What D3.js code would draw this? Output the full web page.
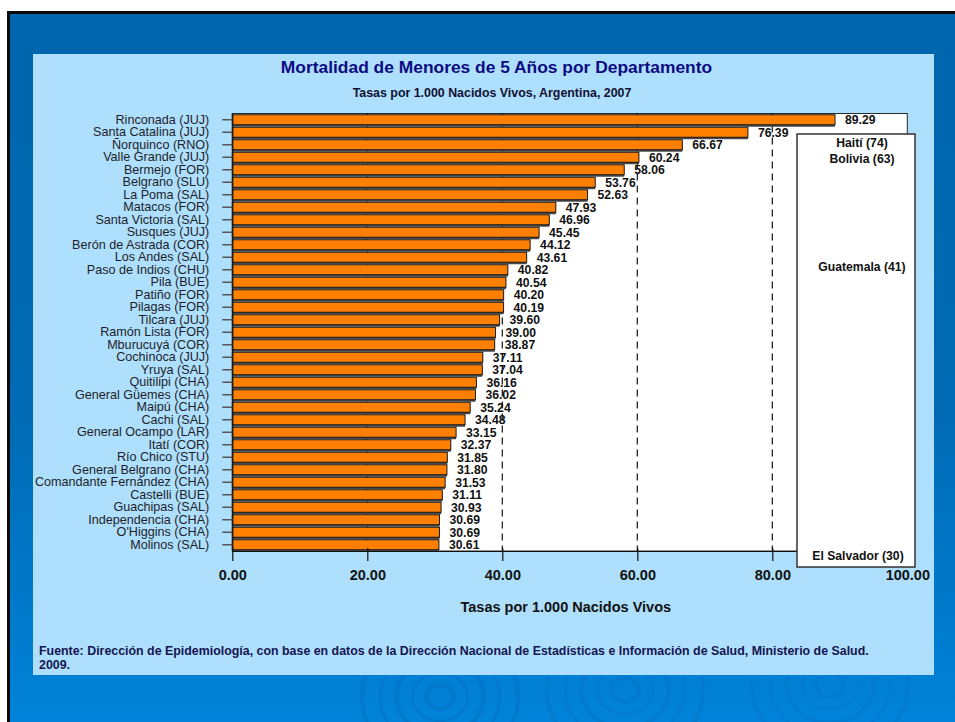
<!DOCTYPE html>
<html>
<head>
<meta charset="utf-8">
<script src="https://cdn.jsdelivr.net/npm/d3@7"></script>
<style>
  html, body { margin: 0; padding: 0; background: #ffffff; }
  svg { display: block; }
  text { font-family: "Liberation Sans", Arial, sans-serif; }
</style>
</head>
<body>
<svg id="chart" width="955" height="722"></svg>
<script>
// ---------------- DATA ----------------
const departamentos = [
  "Rinconada (JUJ)", "Santa Catalina (JUJ)", "Ñorquinco (RNO)", "Valle Grande (JUJ)",
  "Bermejo (FOR)", "Belgrano (SLU)", "La Poma (SAL)", "Matacos (FOR)",
  "Santa Victoria (SAL)", "Susques (JUJ)", "Berón de Astrada (COR)", "Los Andes (SAL)",
  "Paso de Indios (CHU)", "Pila (BUE)", "Patiño (FOR)", "Pilagas (FOR)",
  "Tilcara (JUJ)", "Ramón Lista (FOR)", "Mburucuyá (COR)", "Cochinoca (JUJ)",
  "Yruya (SAL)", "Quitilipi (CHA)", "General Güemes (CHA)", "Maipú (CHA)",
  "Cachi (SAL)", "General Ocampo (LAR)", "Itatí (COR)", "Río Chico (STU)",
  "General Belgrano (CHA)", "Comandante Fernández (CHA)", "Castelli (BUE)", "Guachipas (SAL)",
  "Independencia (CHA)", "O'Higgins (CHA)", "Molinos (SAL)"
];
const tasas = [
  89.29, 76.39, 66.67, 60.24, 58.06, 53.76, 52.63, 47.93,
  46.96, 45.45, 44.12, 43.61, 40.82, 40.54, 40.20, 40.19,
  39.60, 39.00, 38.87, 37.11, 37.04, 36.16, 36.02, 35.24,
  34.48, 33.15, 32.37, 31.85, 31.80, 31.53, 31.11, 30.93,
  30.69, 30.69, 30.61
];
const xTicks = [0, 20, 40, 60, 80, 100];
const gridTicks = [20, 40, 60, 80];
const paisesReferencia = ["Haití (74)", "Bolivia (63)", "Guatemala (41)", "El Salvador (30)"];

const titulo = "Mortalidad de Menores de 5 Años por Departamento";
const subtitulo = "Tasas por 1.000 Nacidos Vivos, Argentina, 2007";
const tituloEjeX = "Tasas por 1.000 Nacidos Vivos";
const fuente = [
  "Fuente: Dirección de Epidemiología, con base en datos de la Dirección Nacional de Estadísticas e Información de Salud, Ministerio de Salud.",
  "2009."
];

// ---------------- LAYOUT ----------------
const svg = d3.select("#chart");
const W = 955, H = 722;
const plot = { left: 232.3, right: 907.3, top: 113.5, bottom: 551 };
const FONT = '"Liberation Sans", Arial, sans-serif';

const data = departamentos.map((d, i) => ({ name: d, value: tasas[i] }));

const x = d3.scaleLinear().domain([0, 100]).range([plot.left, plot.right]);
const y = d3.scaleBand().domain(departamentos).range([plot.top, plot.bottom])
  .paddingInner(0.2).paddingOuter(0.1);

// ---------------- BACKGROUND ----------------
const defs = svg.append("defs");
const grad = defs.append("linearGradient").attr("id", "bgGrad")
  .attr("x1", 0).attr("y1", 0).attr("x2", 0).attr("y2", 1);
grad.append("stop").attr("offset", "0%").attr("stop-color", "#0066ad");
grad.append("stop").attr("offset", "55%").attr("stop-color", "#006ab4");
grad.append("stop").attr("offset", "100%").attr("stop-color", "#0084da");

svg.append("rect").attr("x", 0).attr("y", 0).attr("width", W).attr("height", H).attr("fill", "#ffffff");
svg.append("rect").attr("x", 8.5).attr("y", 12.5).attr("width", W).attr("height", H)
  .attr("fill", "url(#bgGrad)");
// black frame (top and left)
svg.append("line").attr("x1", 7).attr("x2", W).attr("y1", 12.5).attr("y2", 12.5)
  .attr("stroke", "#0a0a0a").attr("stroke-width", 3);
svg.append("line").attr("x1", 8.5).attr("x2", 8.5).attr("y1", 11).attr("y2", H)
  .attr("stroke", "#0a0a0a").attr("stroke-width", 3);

// faint decorative swirls
const swirlCenters = [[440, 697, 1], [625, 690, 0.7], [830, 685, 0.5]];
const swirl = svg.append("g").attr("fill", "none");
swirlCenters.forEach(([cx, cy, op]) => {
  [12, 24, 38, 52, 68].forEach((r, j) => {
    swirl.append("ellipse").attr("cx", cx).attr("cy", cy).attr("rx", r * 1.15).attr("ry", r)
      .attr("stroke", "#0068b6")
      .attr("stroke-width", j % 2 ? 2.5 : 4)
      .attr("opacity", 0.35 * op);
  });
});

// light panel
svg.append("rect").attr("x", 33).attr("y", 54).attr("width", 901).attr("height", 621)
  .attr("fill", "#aedffc");

// ---------------- TITLES ----------------
svg.append("text").attr("x", 496.5).attr("y", 72.5).attr("text-anchor", "middle")
  .attr("font-size", "17.4px").attr("font-weight", "bold").attr("fill", "#0c0c82")
  .text(titulo);
svg.append("text").attr("x", 492).attr("y", 97).attr("text-anchor", "middle")
  .attr("font-size", "12.4px").attr("font-weight", "bold").attr("fill", "#111133")
  .text(subtitulo);

// ---------------- PLOT AREA ----------------
svg.append("rect").attr("x", plot.left).attr("y", plot.top)
  .attr("width", plot.right - plot.left).attr("height", plot.bottom - plot.top)
  .attr("fill", "#ffffff").attr("stroke", "#2a2a2a").attr("stroke-width", 1);

// value labels (drawn under the grid lines, as in the reference)
svg.append("g").selectAll("text").data(data).join("text")
  .attr("x", d => x(d.value) + 10)
  .attr("y", d => y(d.name) + y.bandwidth() / 2 + 4.6)
  .attr("font-size", "12.2px").attr("font-weight", "bold").attr("fill", "#111")
  .text(d => d.value.toFixed(2));

// dashed grid lines
svg.append("g").selectAll("line").data(gridTicks).join("line")
  .attr("x1", d => x(d)).attr("x2", d => x(d))
  .attr("y1", plot.top).attr("y2", plot.bottom)
  .attr("stroke", "#111").attr("stroke-width", 1.2).attr("stroke-dasharray", "7,5");
// small ticks at top of frame
svg.append("g").selectAll("line").data(gridTicks).join("line")
  .attr("x1", d => x(d)).attr("x2", d => x(d))
  .attr("y1", plot.top).attr("y2", plot.top + 4)
  .attr("stroke", "#111").attr("stroke-width", 1.2);

// bar shadows + bars
svg.append("g").selectAll("rect").data(data).join("rect")
  .attr("x", x(0)).attr("y", d => y(d.name) + 2)
  .attr("width", d => x(d.value) - x(0)).attr("height", y.bandwidth())
  .attr("fill", "#4a4a4a");
svg.append("g").selectAll("rect").data(data).join("rect")
  .attr("x", x(0)).attr("y", d => y(d.name))
  .attr("width", d => x(d.value) - x(0)).attr("height", y.bandwidth())
  .attr("fill", "#ff8000").attr("stroke", "#1a1a1a").attr("stroke-width", 1);

// ---------------- AXES ----------------
const xAxis = svg.append("g").attr("transform", `translate(0,${plot.bottom})`)
  .call(d3.axisBottom(x).tickValues(xTicks).tickFormat(d3.format(".2f"))
    .tickSize(10).tickSizeOuter(0).tickPadding(9));
xAxis.select(".domain").attr("stroke", "#111").attr("stroke-width", 1.2);
xAxis.selectAll(".tick line").attr("stroke", "#111").attr("stroke-width", 1.2)
  .attr("y1", -3);
xAxis.selectAll("text").attr("font-family", FONT).attr("font-size", "14.5px")
  .attr("font-weight", "bold").attr("fill", "#111");

const yAxis = svg.append("g").attr("transform", `translate(${plot.left},0)`)
  .call(d3.axisLeft(y).tickSize(10).tickSizeOuter(0).tickPadding(13));
yAxis.select(".domain").attr("stroke", "#111").attr("stroke-width", 1.2);
yAxis.selectAll(".tick line").attr("stroke", "#555").attr("stroke-width", 1.5);
yAxis.selectAll("text").attr("font-family", FONT).attr("font-size", "12.6px")
  .attr("fill", "#1e1e2a");

// ---------------- REFERENCE BOX ----------------
const box = { x: 797, y: 134, w: 118, h: 433 };
svg.append("rect").attr("x", box.x).attr("y", box.y).attr("width", box.w).attr("height", box.h)
  .attr("fill", "#ffffff").attr("stroke", "#333").attr("stroke-width", 1.5);
const refBaselines = [147, 163, 270.5, 559.5];
svg.append("g").selectAll("text").data(paisesReferencia).join("text")
  .attr("x", (d, i) => i === 3 ? box.x + 61 : box.x + 65)
  .attr("y", (d, i) => refBaselines[i])
  .attr("text-anchor", "middle")
  .attr("font-size", "12.2px").attr("font-weight", "bold").attr("fill", "#111")
  .text(d => d);

// ---------------- AXIS TITLE & SOURCE ----------------
svg.append("text").attr("x", (plot.left + plot.right) / 2 - 4).attr("y", 612)
  .attr("text-anchor", "middle").attr("font-size", "14.5px").attr("font-weight", "bold")
  .attr("fill", "#111").text(tituloEjeX);

svg.append("g").selectAll("text").data(fuente).join("text")
  .attr("x", 39).attr("y", (d, i) => 654.5 + i * 14.5)
  .attr("font-size", "12.4px").attr("font-weight", "bold").attr("fill", "#151552")
  .text(d => d);
</script>
</body>
</html>
